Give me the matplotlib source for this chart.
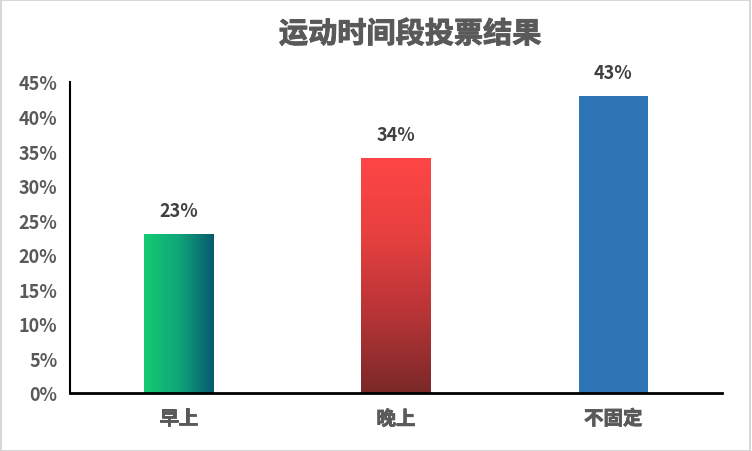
import numpy as np
import matplotlib.pyplot as plt
import matplotlib.patheffects as pe
from matplotlib.colors import LinearSegmentedColormap
from matplotlib.ticker import PercentFormatter

plt.rcParams['font.family'] = ['Noto Sans CJK SC', 'DejaVu Sans']

categories = ['早上', '晚上', '不固定']
values = [0.23, 0.34, 0.43]
labels = ['23%', '34%', '43%']

fig = plt.figure(figsize=(7.52, 4.52), dpi=100)
ax = fig.add_axes([70/752, 58/452, 652/752, 311/452])

# figure border
fig.patches.append(plt.Rectangle((0.001, 0.001), 0.997, 0.997, transform=fig.transFigure,
                                 fill=False, edgecolor='#d0d0d0', linewidth=1.2))

x = np.arange(len(categories))
bars = ax.bar(x, values, width=0.32, color=['none', 'none', '#2E75B6'], zorder=2)

# gradient fills for first two bars
green = LinearSegmentedColormap.from_list('g', ['#13CB6F', '#10A57A', '#075A6E'])
red = LinearSegmentedColormap.from_list('r', ['#7A2828', '#B73436', '#E6403F', '#FF4646'])
for b, cmap, horiz in [(bars[0], green, True), (bars[1], red, False)]:
    x0, y0, w, h = b.get_x(), b.get_y(), b.get_width(), b.get_height()
    grad = np.linspace(0, 1, 256)
    img = grad.reshape(1, -1) if horiz else grad.reshape(-1, 1)
    im = ax.imshow(img, cmap=cmap, extent=[x0, x0 + w, y0, y0 + h], origin='lower',
                   aspect='auto', zorder=2)
    im.set_clip_path(b)

for xi, v, lab in zip(x, values, labels):
    ax.text(xi, v + 0.02, lab, ha='center', va='bottom', fontsize=13,
            fontweight='bold', color='#404040')

# CJK font has no bold face here, thicken with a stroke
bold_gray = [pe.withStroke(linewidth=0.6, foreground='#595959')]

ax.set_xlim(-0.5, 2.5)
ax.set_ylim(0, 0.45)
ax.set_yticks(np.arange(0, 0.451, 0.05))
ax.yaxis.set_major_formatter(PercentFormatter(1.0, decimals=0))
ax.set_xticks(x)
ax.set_xticklabels(categories, fontsize=14, fontweight='bold', color='#595959')
for t in ax.get_xticklabels():
    t.set_path_effects(bold_gray)
ax.tick_params(axis='y', length=0, colors='#595959', labelsize=13, pad=9)
ax.tick_params(axis='x', length=0, pad=12)
for t in ax.get_yticklabels():
    t.set_fontweight('bold')
for s in ['top', 'right']:
    ax.spines[s].set_visible(False)
ax.spines['left'].set_linewidth(1.5)
ax.spines['bottom'].set_linewidth(2)

fig.text(410/752, 0.923, '运动时间段投票结果', ha='center', va='center', fontsize=21,
         fontweight='bold', color='#595959',
         path_effects=[pe.withStroke(linewidth=0.7, foreground='#595959')])

fig.savefig('out.png', dpi=100)
